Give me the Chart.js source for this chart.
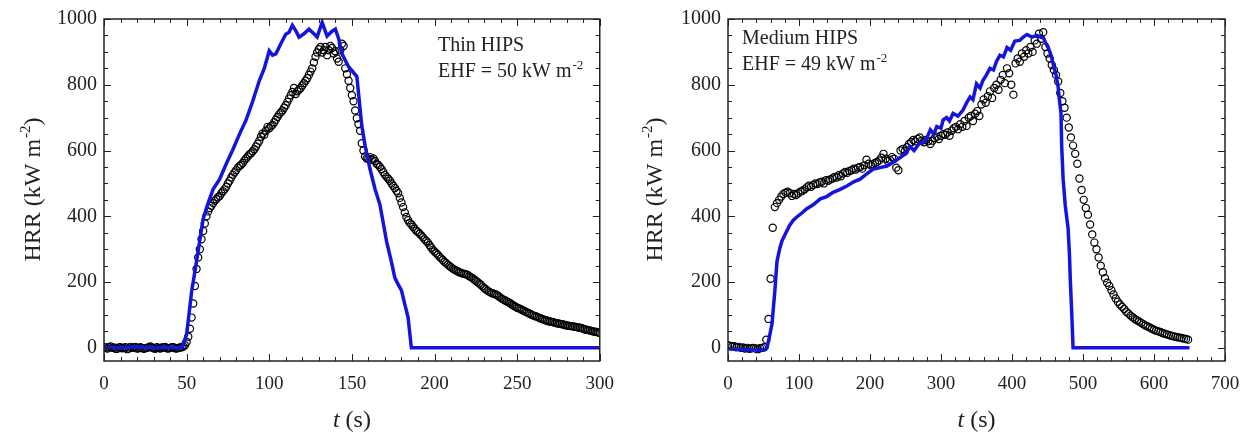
<!DOCTYPE html>
<html>
<head>
<meta charset="utf-8">
<script src="https://cdn.jsdelivr.net/npm/chart.js@4.4.1/dist/chart.umd.min.js"></script>
<style>
  html, body { margin: 0; padding: 0; background: #fff; }
  #wrap { position: relative; width: 1252px; height: 440px; }
  canvas { position: absolute; top: 0; }
</style>
</head>
<body>
<div id="wrap">
  <canvas id="thin" width="626" height="440" style="left:0"></canvas>
  <canvas id="medium" width="626" height="440" style="left:626px"></canvas>
</div>
<script>
// --- Thin HIPS, EHF = 50 ---
// experimental HRR, one reading per second starting at t = 0
const thinExpStep = 1;
const thinExpHRR = [
  3, 1, -2, 2, 4, 0, 1, -3, -3, 1, 2, -1, 0, 2, -4, -2, 3, 0, 1, 3, -2, -1, 2, 0,
  -3, -1, 0, 2, 4, 1, -1, -3, 2, 0, -2, 1, 1, 3, -1, -2, 0, 2, 2, -1, -2, 0, 1, 2,
  4, 8, 18, 34, 58, 92, 135, 188, 240, 275,
  300, 330, 355, 378, 400, 415, 425, 432, 440, 447,
  452, 458, 462, 470, 476, 482, 490, 500, 508, 518,
  526, 533, 540, 548, 553, 557, 562, 570, 576, 582,
  588, 592, 598, 604, 612, 621, 630, 642, 652, 648,
  660, 672, 668, 674, 678, 686, 694, 702, 710, 716,
  722, 730, 738, 748, 758, 768, 778, 790, 772, 780,
  785, 790, 798, 805, 812, 820, 830, 840, 850, 868,
  885, 898, 908, 915, 898, 905, 915, 890, 905, 918,
  912, 895, 902, 880, 870, 905, 925, 918, 850, 832,
  812, 790, 768, 750, 722, 698, 680, 660, 622, 600,
  582, 576, 575, 580, 572, 576, 568, 560, 556, 550,
  543, 534, 526, 520, 514, 508, 500, 493, 486, 478,
  470, 456, 442, 428, 412, 398, 388, 380, 375, 368,
  362, 356, 352, 347, 342, 336, 330, 325, 320, 312,
  305, 298, 293, 288, 283, 277, 272, 267, 262, 258,
  253, 249, 245, 241, 238, 235, 233, 230, 228, 226,
  225, 224, 222, 218, 215, 212, 208, 204, 200, 196,
  192, 187, 182, 178, 174, 171, 168, 166, 164, 162,
  160, 156, 152, 149, 146, 143, 141, 138, 135, 131,
  128, 125, 122, 120, 118, 115, 113, 110, 108, 105,
  103, 100, 98, 96, 95, 92, 90, 88, 86, 84,
  83, 81, 80, 79, 78, 76, 75, 74, 73, 72,
  71, 69, 68, 67, 66, 66, 65, 64, 63, 62,
  61, 60, 58, 56, 55, 54, 53, 51, 50, 49,
  48, 47, 45
];
// model curve
const thinModelT = [0, 10, 20, 30, 40, 47, 50, 53, 56, 60, 63, 66, 70, 74, 78, 82, 86, 90, 94, 97,
  100, 102, 104, 107, 110, 112, 114, 116, 118, 121, 124, 127, 129, 132, 135, 138, 140, 142, 144, 148,
  153, 156, 158, 161, 164, 167, 171, 174, 176, 178, 180, 182, 184, 186, 300];
const thinModelHRR = [2, 0, 3, 0, 2, 0, 40, 170, 263, 392, 440, 482, 513, 560, 603, 650, 693, 750, 813, 850,
  903, 890, 894, 925, 954, 960, 981, 965, 945, 955, 969, 955, 945, 990, 948, 963, 969, 940, 894, 855,
  825, 675, 615, 543, 483, 435, 324, 260, 213, 193, 175, 133, 93, 0, 0];

// --- Medium HIPS, EHF = 49 ---
// experimental HRR, one reading every 3 s starting at t = 0
const medExpStep = 3;
const medExpHRR = [
  8, 6, 4, 5, 2, 3, 0, 1, -2, 0, -3, -1, 0, -2, -4, -1, 0, 2, 25,
  88, 210, 365, 428, 440, 450, 460, 468, 472, 475, 470, 462, 468, 465, 470, 475,
  478, 482, 488, 493, 490, 495, 500, 498, 503, 505, 500, 510, 508, 512, 515, 520,
  518, 525, 522, 530, 535, 532, 538, 540, 545, 542, 548, 550, 545, 555, 572, 560,
  555, 558, 562, 565, 570, 578, 590, 575, 568, 572, 580, 575, 548, 540, 600, 605,
  598, 610, 620, 625, 632, 628, 635, 640, 630, 625, 632, 628, 620, 630, 638, 642,
  635, 645, 650, 648, 655, 645, 660, 668, 672, 665, 680, 672, 690, 675, 700, 705,
  690, 712, 720, 705, 740, 755, 745, 765, 780, 760, 790, 800, 785, 815, 830, 805,
  850, 835, 800, 770, 865, 880, 870, 895, 885, 905, 895, 915, 900, 935, 925, 955,
  940, 960, 915, 895, 880, 860, 845, 830, 810, 775, 750, 730, 700, 670, 640, 615,
  590, 560, 515, 480, 450, 425, 405, 375, 345, 320, 300, 275, 250, 230, 212, 198,
  188, 175, 162, 150, 140, 132, 125, 118, 110, 104, 98, 93, 88, 84, 80, 76,
  72, 68, 65, 62, 58, 55, 52, 50, 48, 45, 43, 41, 39, 37, 35, 34,
  32, 31, 30, 28, 27, 25
];
const medModelT = [0, 20, 40, 52, 55, 58, 62, 66, 69, 73, 76, 80, 87, 92, 97, 104, 111, 120, 130, 139,
  148, 158, 168, 177, 186, 195, 204, 214, 224, 233, 242, 250, 256, 262, 270, 278, 285, 290, 294, 300,
  303, 308, 312, 317, 324, 331, 336, 341, 345, 350, 355, 359, 364, 369, 374, 378, 383, 388, 393, 398,
  404, 411, 416, 421, 428, 435, 440, 444, 448, 451, 455, 458, 462, 465, 467, 469, 470, 472, 475, 479,
  481, 482, 484, 486, 650];
const medModelHRR = [-3, -5, -8, -5, 0, 30, 73, 173, 263, 303, 325, 343, 373, 388, 398, 410, 423, 435, 453, 460,
  473, 482, 493, 505, 513, 528, 543, 548, 553, 565, 578, 590, 613, 600, 623, 628, 663, 650, 673, 668,
  693, 700, 690, 713, 705, 723, 745, 763, 755, 803, 790, 813, 830, 850, 845, 870, 890, 885, 913, 905,
  933, 935, 945, 953, 945, 950, 945, 943, 925, 913, 890, 863, 830, 793, 750, 713, 613, 513, 433, 363,
  280, 213, 113, 0, 0];

// axis labels shared by both panels
const hrrTicks = [0, 200, 400, 600, 800, 1000];

const serif = '"Liberation Serif", "Times New Roman", serif';
const ink = '#222';

// frame, inward ticks, titles and the note, all drawn after the data
const decor = {
  id: 'decor',
  afterDatasetsDraw(chart, args, o) {
    const { ctx, chartArea: a, scales: { x, y } } = chart;
    ctx.save();
    ctx.strokeStyle = ink;
    ctx.lineWidth = 1;
    ctx.beginPath();
    for (let v = x.min; v <= x.max + 1e-6; v += o.xMinor) {
      const px = Math.round(x.getPixelForValue(v)) + 0.5;
      const len = Math.abs(v % o.xMajor) < 1e-6 ? 7 : 4;
      ctx.moveTo(px, a.bottom); ctx.lineTo(px, a.bottom - len);
      ctx.moveTo(px, a.top); ctx.lineTo(px, a.top + len);
    }
    for (let v = 0; v <= y.max + 1e-6; v += 50) {
      const py = Math.round(y.getPixelForValue(v)) + 0.5;
      const len = v % 200 === 0 ? 7 : 4;
      ctx.moveTo(a.left, py); ctx.lineTo(a.left + len, py);
      ctx.moveTo(a.right, py); ctx.lineTo(a.right - len, py);
    }
    ctx.stroke();
    ctx.lineWidth = 1.5;
    ctx.strokeRect(a.left, a.top, a.right - a.left, a.bottom - a.top);

    ctx.fillStyle = ink;
    ctx.textBaseline = 'alphabetic';
    // x title: italic t (s)
    const big = '24px ' + serif, bigIt = 'italic 24px ' + serif;
    ctx.font = bigIt; const wt = ctx.measureText('t').width;
    ctx.font = big; const ws = ctx.measureText(' (s)').width;
    const cx = (a.left + a.right) / 2 - (wt + ws) / 2;
    ctx.font = bigIt; ctx.fillText('t', cx, 427);
    ctx.font = big; ctx.fillText(' (s)', cx + wt, 427);

    // y title: HRR (kW m^-2)
    ctx.save();
    ctx.translate(o.yTitleX, (a.top + a.bottom) / 2);
    ctx.rotate(-Math.PI / 2);
    drawSup(ctx, ['HRR (kW m', '-2', ')'], 0, 0, 24, 15, 10, true);
    ctx.restore();

    // note
    ctx.font = '20px ' + serif;
    ctx.textAlign = 'left';
    ctx.fillText(o.note1, o.noteX, o.noteY);
    drawSup(ctx, [o.note2, '-2', ''], o.noteX, o.noteY + 26, 20, 13, 8, false);
    ctx.restore();
  }
};

function drawSup(ctx, parts, x, y, size, supSize, rise, centre) {
  ctx.font = size + 'px ' + serif;
  const w0 = ctx.measureText(parts[0]).width;
  const w2 = ctx.measureText(parts[2]).width;
  ctx.font = supSize + 'px ' + serif;
  const w1 = ctx.measureText(parts[1]).width;
  let sx = centre ? x - (w0 + w1 + w2) / 2 : x;
  ctx.textAlign = 'left';
  ctx.font = size + 'px ' + serif;
  ctx.fillText(parts[0], sx, y);
  ctx.font = supSize + 'px ' + serif;
  ctx.fillText(parts[1], sx + w0 + 1, y - rise);
  ctx.font = size + 'px ' + serif;
  ctx.fillText(parts[2], sx + w0 + w1 + 1, y);
}

function makeChart(id, model, exp, xMax, xStep, yAxisW, rightPad, decorOpts) {
  new Chart(document.getElementById(id), {
    type: 'scatter',
    data: {
      datasets: [
        {
          data: model,
          showLine: true,
          pointRadius: 0,
          borderColor: '#1414dc',
          borderWidth: 3.5,
          tension: 0
        },
        {
          data: exp,
          pointStyle: 'circle',
          pointRadius: 3.6,
          borderColor: '#000',
          borderWidth: 1.2,
          backgroundColor: 'rgba(255,255,255,0)'
        }
      ]
    },
    options: {
      responsive: false,
      animation: false,
      devicePixelRatio: 1,
      layout: { padding: { left: 0, right: rightPad, top: 15, bottom: 0 } },
      plugins: { legend: { display: false }, tooltip: { enabled: false }, decor: decorOpts },
      scales: {
        x: {
          type: 'linear', min: 0, max: xMax,
          border: { display: false },
          grid: { display: false, drawTicks: false },
          ticks: { stepSize: xStep, padding: 12, color: ink, font: { family: serif, size: 19 }, maxRotation: 0,
                   callback: v => String(v) },
          afterFit: s => { s.height = 79; }
        },
        y: {
          min: -40, max: 1000,
          border: { display: false },
          grid: { display: false, drawTicks: false },
          ticks: { padding: 7, color: ink, font: { family: serif, size: 20 }, callback: v => String(v) },
          afterBuildTicks: s => { s.ticks = hrrTicks.map(v => ({ value: v })); },
          afterFit: s => { s.width = yAxisW; }
        }
      }
    },
    plugins: [decor]
  });
}

const thinModel = thinModelT.map((t, i) => ({ x: t, y: thinModelHRR[i] }));
const thinExp = thinExpHRR.map((v, i) => ({ x: i * thinExpStep, y: v }));
const medModel = medModelT.map((t, i) => ({ x: t, y: medModelHRR[i] }));
const medExp = medExpHRR.map((v, i) => ({ x: i * medExpStep, y: v }));

makeChart('thin', thinModel, thinExp, 300, 50, 104, 24,
  { xMinor: 10, xMajor: 50, yTitleX: 40, noteX: 438, noteY: 51, note1: 'Thin HIPS', note2: 'EHF = 50 kW m' });
makeChart('medium', medModel, medExp, 700, 100, 102, 27,
  { xMinor: 20, xMajor: 100, yTitleX: 36, noteX: 116, noteY: 44, note1: 'Medium HIPS', note2: 'EHF = 49 kW m' });
</script>
</body>
</html>
